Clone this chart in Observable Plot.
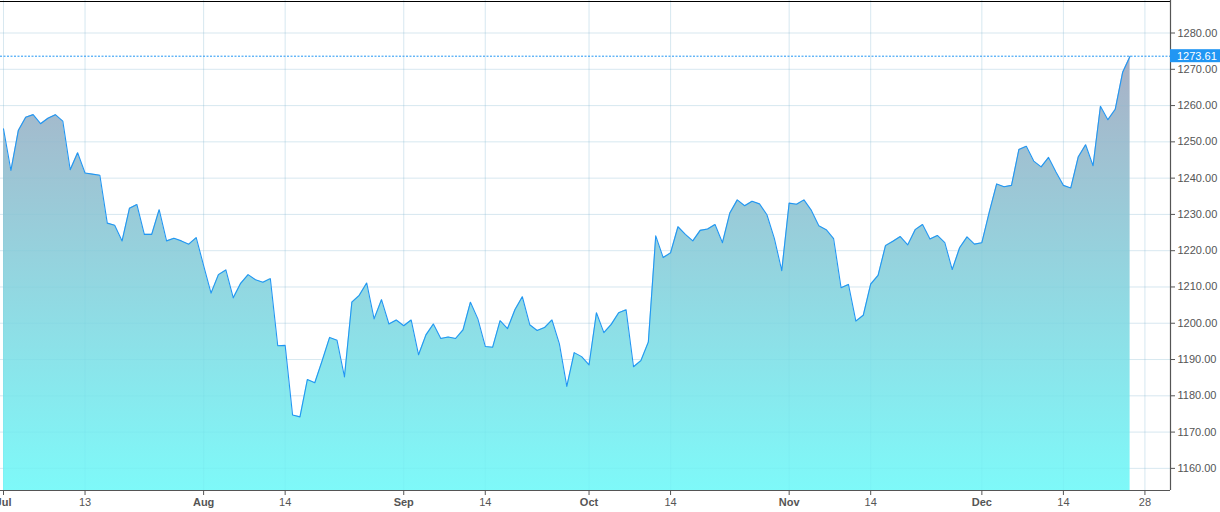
<!DOCTYPE html>
<html>
<head>
<meta charset="utf-8">
<script src="https://cdn.jsdelivr.net/npm/d3@7"></script>
<script src="https://cdn.jsdelivr.net/npm/@observablehq/plot@0.6"></script>
<style>
  html, body { margin: 0; padding: 0; background: #fff; }
  #chart { width: 1220px; height: 512px; overflow: hidden; }
</style>
</head>
<body>
<div id="chart"></div>
<script>
// Daily closes (trading-bar index 0..152)
const values = [
  1253.6, 1242.1, 1253.1, 1256.8, 1257.5, 1255.0, 1256.5, 1257.5, 1255.7, 1242.3,
  1247.0, 1241.4, 1241.1, 1240.8, 1227.6, 1227.0, 1222.7, 1231.7, 1232.7, 1224.5,
  1224.5, 1231.3, 1222.7, 1223.4, 1222.7, 1221.8, 1223.6, 1215.9, 1208.3, 1213.4,
  1214.7, 1207.0, 1211.0, 1213.4, 1212.0, 1211.3, 1212.3, 1193.8, 1193.9, 1174.7,
  1174.2, 1184.5, 1183.6, 1189.7, 1196.1, 1195.3, 1185.2, 1205.8, 1207.7, 1211.1,
  1201.2, 1206.5, 1199.8, 1200.9, 1199.3, 1200.9, 1191.3, 1196.8, 1199.8, 1195.8,
  1196.2, 1195.8, 1198.2, 1205.8, 1201.2, 1193.6, 1193.4, 1200.7, 1198.5, 1203.7,
  1207.3, 1199.6, 1198.0, 1198.8, 1200.9, 1194.3, 1182.6, 1191.9, 1190.8, 1188.5,
  1202.9, 1197.4, 1199.7, 1202.9, 1203.7, 1188.0, 1189.7, 1194.8, 1224.1, 1218.1,
  1219.4, 1226.6, 1224.5, 1222.7, 1225.6, 1226.0, 1227.2, 1222.2, 1230.4, 1234.0,
  1232.4, 1233.6, 1232.9, 1229.9, 1223.4, 1214.5, 1233.1, 1232.8, 1234.0, 1231.1,
  1226.9, 1225.8, 1223.3, 1209.8, 1210.7, 1200.6, 1202.2, 1210.8, 1213.2, 1221.4,
  1222.6, 1223.9, 1221.6, 1225.8, 1227.2, 1223.2, 1224.2, 1222.2, 1214.8, 1220.8,
  1223.8, 1221.8, 1222.2, 1230.6, 1238.4, 1237.6, 1238.0, 1247.9, 1248.8, 1244.7,
  1243.1, 1245.7, 1241.7, 1238.0, 1237.3, 1245.8, 1249.2, 1243.4, 1259.8, 1256.1,
  1259.0, 1269.2, 1273.61
];

// X tick labels and the bar index they sit on
const monthTickIdx    = [0, 27, 54, 79, 106, 132];
const monthTickLabels = ["Jul", "Aug", "Sep", "Oct", "Nov", "Dec"];
const dayTickIdx      = [11, 38, 65, 90, 117, 143, 154];
const dayTickLabels   = ["13", "14", "14", "14", "14", "14", "28"];

// Y ticks
const yTicks = [1160, 1170, 1180, 1190, 1200, 1210, 1220, 1230, 1240, 1250, 1260, 1270, 1280];

const lastValue = values[values.length - 1];
const data = values.map((v, i) => ({i, v}));
const yMin = 1153.9, yMax = 1288.96;
const xDomain = [-0.405, 157.45];
const allTickIdx = monthTickIdx.concat(dayTickIdx);

const lineColor = "#2196f3";
const axisColor = "#555555";
const font = "'Liberation Sans', Arial, Helvetica, sans-serif";

const chart = Plot.plot({
  width: 1220,
  height: 512,
  marginLeft: 0,
  marginRight: 50,
  marginTop: 0,
  marginBottom: 22,
  x: {type: "linear", domain: xDomain, axis: null},
  y: {domain: [yMin, yMax], axis: null},
  style: {fontFamily: font, fontSize: "11px", color: axisColor, background: "#fff", overflow: "visible"},
  marks: [
    Plot.gridX(allTickIdx, {stroke: "#9fc0d6", strokeOpacity: 0.3, strokeWidth: 1}),
    Plot.gridY(yTicks, {stroke: "#9fc0d6", strokeOpacity: 0.3, strokeWidth: 1}),
    Plot.areaY(data, {x: "i", y1: yMin, y2: "v", fill: "url(#areaGrad)", curve: "linear"}),
    Plot.gridX(allTickIdx, {stroke: "#4fb8d0", strokeOpacity: 0.07, strokeWidth: 1}),
    Plot.gridY(yTicks, {stroke: "#4fb8d0", strokeOpacity: 0.07, strokeWidth: 1}),
    Plot.lineY(data, {x: "i", y: "v", stroke: lineColor, strokeWidth: 1.1, curve: "linear"}),
    Plot.ruleY([lastValue], {stroke: lineColor, strokeWidth: 1, strokeDasharray: "2,1.5"}),
    Plot.ruleY([yMax], {stroke: "#000", strokeWidth: 1.2, dy: 1}),
    Plot.ruleY([yMin], {stroke: axisColor, strokeWidth: 1.2}),
    Plot.ruleX([xDomain[1]], {stroke: axisColor, strokeWidth: 1.2}),
    Plot.axisX({
      ticks: monthTickIdx,
      tickFormat: i => monthTickLabels[monthTickIdx.indexOf(i)],
      tickSize: 5, tickPadding: 3, fontWeight: "bold", label: null, stroke: axisColor
    }),
    Plot.axisX({
      ticks: dayTickIdx,
      tickFormat: i => dayTickLabels[dayTickIdx.indexOf(i)],
      tickSize: 5, tickPadding: 3, label: null, stroke: axisColor
    }),
    Plot.axisY({
      anchor: "right",
      ticks: yTicks,
      tickFormat: d => d.toFixed(2),
      tickSize: 4, tickPadding: 3, label: null, stroke: axisColor
    })
  ]
});

document.getElementById("chart").appendChild(chart);

// gradient definition for the area
const svg = d3.select(chart);
const defs = svg.insert("defs", ":first-child");
const grad = defs.append("linearGradient")
  .attr("id", "areaGrad").attr("x1", 0).attr("y1", 0).attr("x2", 0).attr("y2", 1);
grad.append("stop").attr("offset", 0).attr("stop-color", "#a9b1c6");
grad.append("stop").attr("offset", 1).attr("stop-color", "#7ef9f9");

// current price label on the right axis
const yPos = chart.scale("y").apply(lastValue);
const xRight = chart.scale("x").apply(xDomain[1]);
const lab = svg.append("g").attr("text-anchor", "start");
lab.append("rect")
  .attr("x", xRight).attr("y", yPos - 6.5)
  .attr("width", 1220 - xRight).attr("height", 13)
  .attr("fill", lineColor);
lab.append("text")
  .attr("x", xRight + 7).attr("y", yPos).attr("dy", "0.35em")
  .attr("text-anchor", "start")
  .attr("fill", "#fff")
  .attr("font-family", font).attr("font-size", "11px")
  .text(lastValue.toFixed(2));
</script>
</body>
</html>
